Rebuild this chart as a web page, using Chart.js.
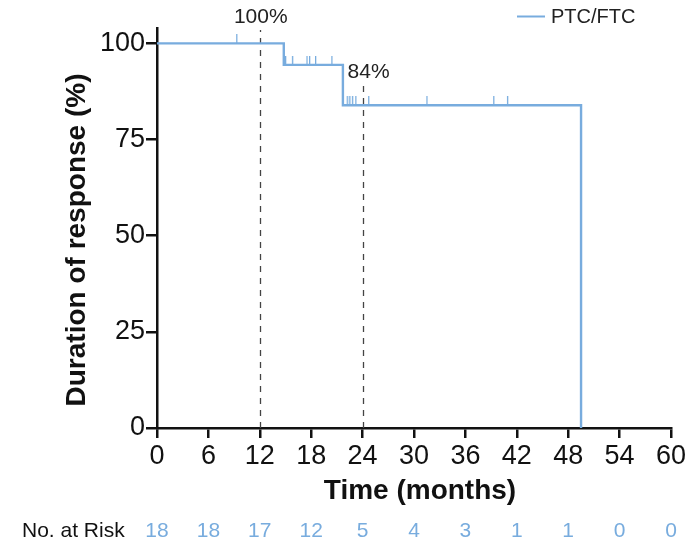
<!DOCTYPE html>
<html>
<head>
<meta charset="utf-8">
<script src="https://cdn.jsdelivr.net/npm/chart.js@4.4.1/dist/chart.umd.min.js"></script>
<style>
  html, body { margin: 0; padding: 0; background: #ffffff; }
  #wrap { width: 693px; height: 543px; position: relative; }
</style>
</head>
<body>
<div id="wrap"><canvas id="c" width="693" height="543"></canvas></div>
<script>
// ---- data ----
const seriesName = 'PTC/FTC';
const eventTimes = [0, 14.8, 21.7, 49.5];          // months
const survivalPct = [100, 94.4, 83.9, 0];           // %
const censorTimes = [9.3, 15.0, 15.8, 17.5, 17.8, 18.5, 20.4, 22.2, 22.5, 22.8, 23.2, 24.7, 31.5, 39.3, 40.9];
const censorPct   = [100, 94.4, 94.4, 94.4, 94.4, 94.4, 94.4, 83.9, 83.9, 83.9, 83.9, 83.9, 83.9, 83.9, 83.9];
const xTicks = [0, 6, 12, 18, 24, 30, 36, 42, 48, 54, 60];
const yTicks = [0, 25, 50, 75, 100];
const riskCounts = [18, 18, 17, 12, 5, 4, 3, 1, 1, 0, 0];
const refTimes = [12, 24];
const refLabels = ['100%', '84%'];

const BLUE = '#78acde';
const FONT = '"Liberation Sans", Arial, Helvetica, sans-serif';

// censor mark: vertical tick only above the point
const censorMark = (function () {
  const cv = document.createElement('canvas');
  cv.width = 3; cv.height = 18;
  const g = cv.getContext('2d');
  g.fillStyle = BLUE;
  g.fillRect(1, 0, 1.3, 9);
  return cv;
})();

const kmPoints = eventTimes.map((t, i) => ({ x: t, y: survivalPct[i] }));
const censorPoints = censorTimes.map((t, i) => ({ x: t, y: censorPct[i] }));

const overlay = {
  id: 'overlay',
  beforeDatasetsDraw(chart) {
    const { ctx, scales: { x, y } } = chart;
    ctx.save();
    ctx.strokeStyle = '#444';
    ctx.lineWidth = 1.3;
    ctx.setLineDash([6, 6]);
    refTimes.forEach((t, i) => {
      const px = Math.round(x.getPixelForValue(t)) + 0.5;
      const top = i === 0 ? 30 : 84;
      ctx.beginPath();
      ctx.moveTo(px, y.getPixelForValue(0));
      ctx.lineTo(px, top);
      ctx.stroke();
    });
    ctx.restore();
  },
  afterDraw(chart) {
    const { ctx, scales: { x, y } } = chart;
    ctx.save();
    // ref labels
    ctx.fillStyle = '#222';
    ctx.font = '21px ' + FONT;
    ctx.textAlign = 'center';
    ctx.textBaseline = 'middle';
    ctx.fillText(refLabels[0], x.getPixelForValue(refTimes[0]) + 1, 17);
    ctx.fillText(refLabels[1], x.getPixelForValue(refTimes[1]) + 6, 72);

    // legend
    ctx.strokeStyle = BLUE;
    ctx.lineWidth = 2;
    ctx.beginPath();
    ctx.moveTo(517, 16.5);
    ctx.lineTo(545, 16.5);
    ctx.stroke();
    ctx.fillStyle = '#222';
    ctx.textAlign = 'left';
    ctx.font = '20px ' + FONT;
    ctx.fillText(seriesName, 551, 17);

    // axis titles
    ctx.fillStyle = '#111';
    ctx.font = 'bold 28px ' + FONT;
    ctx.textAlign = 'center';
    ctx.fillText('Time (months)', 420, 491);
    ctx.save();
    ctx.translate(77, 240);
    ctx.rotate(-Math.PI / 2);
    ctx.fillText('Duration of response (%)', 0, 0);
    ctx.restore();

    // number at risk
    ctx.font = '21px ' + FONT;
    ctx.textAlign = 'left';
    ctx.fillStyle = '#111';
    ctx.fillText('No. at Risk', 22, 531);
    ctx.fillStyle = BLUE;
    ctx.textAlign = 'center';
    riskCounts.forEach((n, i) => {
      ctx.fillText(String(n), x.getPixelForValue(xTicks[i]), 531);
    });
    ctx.restore();
  }
};

new Chart(document.getElementById('c'), {
  type: 'scatter',
  data: {
    datasets: [
      {
        label: seriesName,
        data: kmPoints,
        showLine: true,
        stepped: 'before',
        borderColor: BLUE,
        borderWidth: 2.4,
        pointRadius: 0,
        fill: false
      },
      {
        label: 'censored',
        data: censorPoints,
        showLine: false,
        pointStyle: censorMark,
        pointRadius: 9,
        pointHoverRadius: 9
      }
    ]
  },
  options: {
    responsive: false,
    animation: false,
    events: [],
    layout: { padding: { top: 28, right: 22, left: 0, bottom: 0 } },
    plugins: { legend: { display: false }, tooltip: { enabled: false } },
    scales: {
      x: {
        type: 'linear',
        min: 0, max: 60,
        afterFit: s => { s.height = 115; },
        afterBuildTicks: s => { s.ticks = xTicks.map(v => ({ value: v })); },
        border: { display: true, color: '#111', width: 2.5 },
        grid: { display: true, drawOnChartArea: false, drawTicks: true, tickLength: 10, color: '#111', lineWidth: 2.5 },
        ticks: { color: '#111', font: { family: FONT, size: 27 }, padding: 2, maxRotation: 0, autoSkip: false }
      },
      y: {
        type: 'linear',
        min: 0, max: 104,
        afterFit: s => { s.width = 157; },
        afterBuildTicks: s => { s.ticks = yTicks.map(v => ({ value: v })); },
        border: { display: true, color: '#111', width: 2.5 },
        grid: { display: true, drawOnChartArea: false, drawTicks: true, tickLength: 11, color: '#111', lineWidth: 2.5 },
        ticks: { color: '#111', font: { family: FONT, size: 27 }, padding: 1, autoSkip: false }
      }
    }
  },
  plugins: [overlay]
});
</script>
</body>
</html>
